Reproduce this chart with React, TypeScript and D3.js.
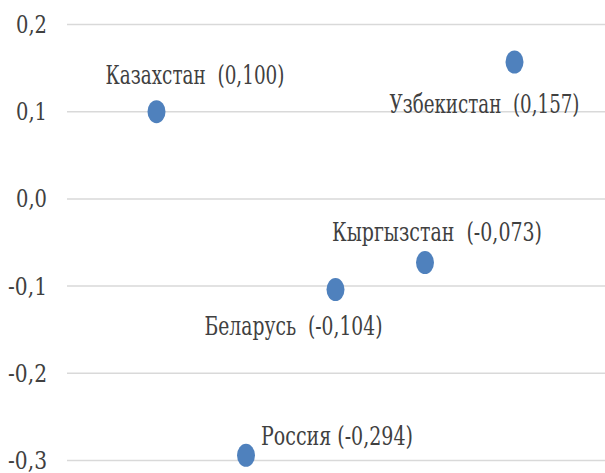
import React from "react";
import * as d3 from "d3";

const countries = ["Казахстан", "Россия", "Беларусь", "Кыргызстан", "Узбекистан"];
const values = [0.1, -0.294, -0.104, -0.073, 0.157];
const labelTexts = ["Казахстан  (0,100)", "Россия (-0,294)", "Беларусь  (-0,104)", "Кыргызстан  (-0,073)", "Узбекистан  (0,157)"];
const yTicks = [0.2, 0.1, 0.0, -0.1, -0.2, -0.3];
const yTickLabels = ["0,2", "0,1", "0,0", "-0,1", "-0,2", "-0,3"];

// label layout (offsets from the dot, and rendered width)
const labelLayout = [
  { dx: -51, dy: -28, w: 179 },
  { dx: 15, dy: -10, w: 152 },
  { dx: -131, dy: 45, w: 178 },
  { dx: -93, dy: -22, w: 210 },
  { dx: -125, dy: 51, w: 190 },
];

const W = 605;
const H = 473;
const FONT = "'DejaVu Serif', 'Noto Serif', serif";

export default function App() {
  const x = d3.scaleLinear().domain([0, 6]).range([67, 604]);
  const y = d3.scaleLinear().domain([-0.3, 0.2]).range([460.5, 24.5]);
  const textColor = "#404040";
  return (
    <svg
      width={W}
      height={H}
      style={{ position: "absolute", left: 0, top: 0, background: "#fff" }}
    >
      {yTicks.map((t, i) => (
        <g key={"g" + i}>
          <line x1={x(0)} x2={W} y1={y(t)} y2={y(t)} stroke="#d9d9d9" strokeWidth={1.5} />
          <text
            x={47}
            y={y(t)}
            textAnchor="end"
            dy="0.35em"
            textLength={i >= 3 ? 39 : 31}
            lengthAdjust="spacingAndGlyphs"
            style={{ fontFamily: FONT, fontSize: 24 }}
            fill={textColor}
          >
            {yTickLabels[i]}
          </text>
        </g>
      ))}
      {countries.map((c, i) => (
        <ellipse key={c} cx={x(i + 1)} cy={y(values[i])} rx={9} ry={11.5} fill="#4f81bd" />
      ))}
      {countries.map((c, i) => (
        <text
          key={"l" + c}
          x={x(i + 1) + labelLayout[i].dx}
          y={y(values[i]) + labelLayout[i].dy}
          fill={textColor}
          textLength={labelLayout[i].w}
          lengthAdjust="spacingAndGlyphs"
          style={{ whiteSpace: "pre", fontFamily: FONT, fontSize: 26 }}
        >
          {labelTexts[i]}
        </text>
      ))}
    </svg>
  );
}
